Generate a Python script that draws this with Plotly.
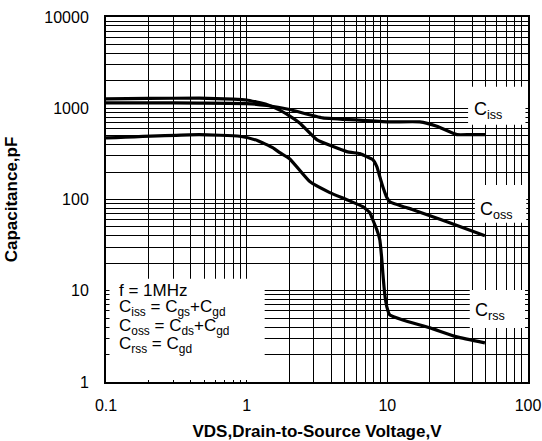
import plotly.graph_objects as go

# ---- data ----
ciss_v = [0.1, 0.2, 0.46, 1.0, 1.39, 2.02, 3.47, 6.69, 10.4, 17.0, 22.5, 31.2, 38.7, 50.2]
ciss_c = [1146, 1146, 1140, 1126, 1071, 968, 785, 738, 709, 709, 635, 514, 514, 514]

coss_v = [0.1, 0.2, 0.46, 0.8, 1.0, 1.39, 1.72, 2.0, 2.38, 3.15, 5.15, 6.37, 7.14, 7.88, 8.42, 8.84, 9.29, 9.92, 10.4, 15.2, 20.1, 26.5, 49.4]
coss_c = [1268, 1280, 1290, 1260, 1232, 1100, 955, 830, 690, 453, 335, 318, 295, 273, 229, 178, 138, 105, 94.6, 77.3, 66.4, 57.1, 40.1]

crss_v = [0.1, 0.46, 0.89, 1.18, 1.53, 1.72, 2.02, 2.81, 3.90, 5.15, 6.69, 7.51, 7.88, 8.42, 8.84, 9.14, 9.29, 9.60, 9.92, 10.4, 12.9, 20.1, 31.2, 49.4]
crss_c = [473, 514, 493, 445, 370, 326, 280, 157, 119, 99.5, 83.4, 71.6, 60.0, 46.6, 36.2, 21.8, 15.7, 9.02, 6.66, 5.44, 4.79, 3.92, 3.12, 2.68]

x_tickvals = [0.1, 1, 10, 100]
x_ticktext = ["0.1", "1", "10", "100"]
y_tickvals = [1, 10, 100, 1000, 10000]
y_ticktext = ["1", "10", "100", "1000", "10000"]

legend_lines = [
    "f = 1MHz",
    "C<sub>iss</sub> = C<sub>gs</sub>+C<sub>gd</sub>",
    "C<sub>oss</sub> = C<sub>ds</sub>+C<sub>gd</sub>",
    "C<sub>rss</sub> = C<sub>gd</sub>",
]
curve_labels = ["C<sub>iss</sub>", "C<sub>oss</sub>", "C<sub>rss</sub>"]

FONT = "Liberation Sans, Arial, sans-serif"

fig = go.Figure()
for v, c, name in [(ciss_v, ciss_c, "Ciss"), (coss_v, coss_c, "Coss"), (crss_v, crss_c, "Crss")]:
    fig.add_trace(go.Scatter(x=v, y=c, mode="lines", name=name,
                             line=dict(color="black", width=3.2, shape="spline", smoothing=0.4),
                             showlegend=False, hoverinfo="skip"))

# white boxes behind the texts (paper coordinates)
boxes = [
    (0.0083, 0.0055, 0.376, 0.2826),   # legend
    (0.858, 0.705, 0.994, 0.809),      # Ciss
    (0.874, 0.436, 0.996, 0.540),      # Coss
    (0.862, 0.148, 0.993, 0.252),      # Crss
]
for x0, y0, x1, y1 in boxes:
    fig.add_shape(type="rect", xref="paper", yref="paper", x0=x0, y0=y0, x1=x1, y1=y1,
                  fillcolor="white", line=dict(width=0), layer="above")

legend_y = [0.252, 0.203, 0.151, 0.102]
for txt, yy in zip(legend_lines, legend_y):
    fig.add_annotation(text=txt, xref="paper", yref="paper", x=0.025, y=yy,
                       xanchor="left", yanchor="middle", showarrow=False,
                       font=dict(family=FONT, size=17, color="black"))

label_pos = [(0.867, 0.745), (0.881, 0.471), (0.869, 0.194)]
for txt, (xx, yy) in zip(curve_labels, label_pos):
    fig.add_annotation(text=txt, xref="paper", yref="paper", x=xx, y=yy,
                       xanchor="left", yanchor="middle", showarrow=False,
                       font=dict(family=FONT, size=18, color="black"))

axis_common = dict(
    type="log", showline=True, linecolor="black", linewidth=2, mirror=True,
    showgrid=True, gridcolor="black", gridwidth=1, ticks="", zeroline=False,
    tickfont=dict(family=FONT, size=16, color="black"),
    minor=dict(dtick="D1", showgrid=True, gridcolor="black", gridwidth=1, ticks=""),
)

fig.update_xaxes(**axis_common, range=[-1, 2], tickvals=x_tickvals, ticktext=x_ticktext,
                 ticklabelstandoff=8,
                 title=dict(text="<b>VDS,Drain-to-Source Voltage,V</b>", standoff=12,
                            font=dict(family=FONT, size=17, color="black")))
fig.update_yaxes(**axis_common, range=[0, 4], tickvals=y_tickvals, ticktext=y_ticktext,
                 ticklabelstandoff=12,
                 title=dict(text="<b>Capacitance,pF</b>", standoff=22,
                            font=dict(family=FONT, size=17, color="black")))

fig.update_layout(
    width=542, height=441,
    margin=dict(l=106, r=14, t=17, b=59, autoexpand=False),
    paper_bgcolor="white", plot_bgcolor="white",
    font=dict(family=FONT, color="black"),
)

fig.write_html("out.html", config={"displayModeBar": False, "staticPlot": True},
               post_script="document.body.style.margin='0';document.body.style.overflow='hidden';")
